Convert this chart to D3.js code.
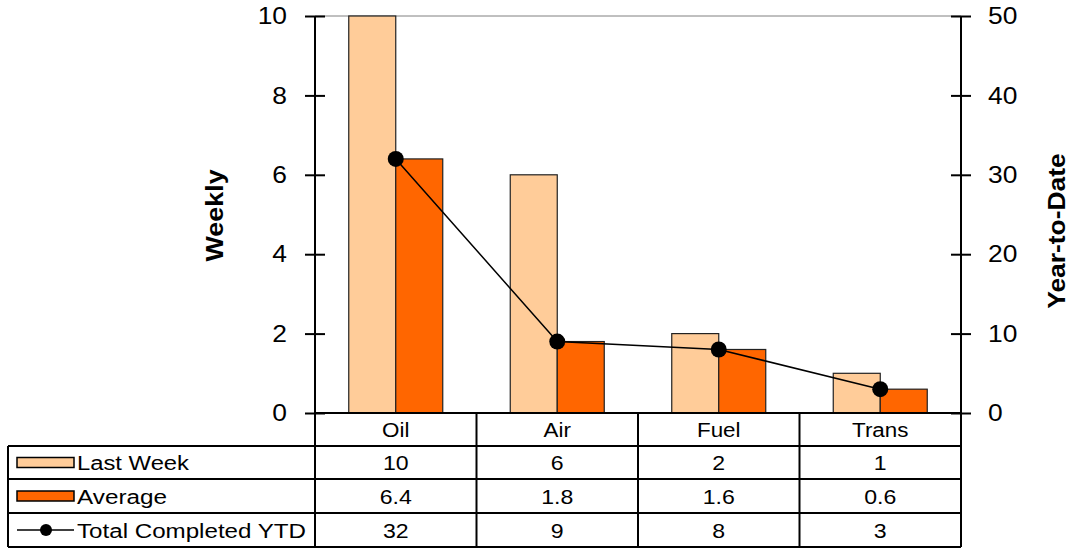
<!DOCTYPE html>
<html><head><meta charset="utf-8">
<script src="https://cdn.jsdelivr.net/npm/d3@7"></script>
<style>body{margin:0;background:#fff}svg{display:block}text{font-family:"Liberation Sans",Arial,sans-serif}</style>
</head><body>
<svg id="c" width="1074" height="548"></svg>
<script>
const categories = ["Oil","Air","Fuel","Trans"];
const lastWeek = [10,6,2,1];
const average = [6.4,1.8,1.6,0.6];
const totalYTD = [32,9,8,3];
const leftTicks = [0,2,4,6,8,10];
const rightTicks = [0,10,20,30,40,50];
const seriesNames = ["Last Week","Average","Total Completed YTD"];

const svg = d3.select("#c");
const L = 315, R = 961, T = 16, B = 413;
const x = d3.scaleBand().domain(categories).range([L,R]).paddingInner(0).paddingOuter(0);
const yL = d3.scaleLinear().domain([0,10]).range([B,T]);
const yR = d3.scaleLinear().domain([0,50]).range([B,T]);
const barW = 47;
const cLast = "#FFCC99", cAvg = "#FF6600";

function stretch(sel, k){
  sel.each(function(){
    const w = this.getComputedTextLength();
    d3.select(this).attr("textLength", w*k).attr("lengthAdjust","spacingAndGlyphs");
  });
  return sel;
}

// top border
svg.append("line").attr("x1",L).attr("x2",R).attr("y1",T).attr("y2",T).attr("stroke","#808080").attr("stroke-width",1);

// bars
const g = svg.append("g");
categories.forEach((c,i)=>{
  const cx = x(c)+x.bandwidth()/2;
  g.append("rect").attr("x",cx-barW).attr("y",yL(lastWeek[i])).attr("width",barW).attr("height",B-yL(lastWeek[i]))
    .attr("fill",cLast).attr("stroke","#222").attr("stroke-width",1.2);
  g.append("rect").attr("x",cx).attr("y",yL(average[i])).attr("width",barW).attr("height",B-yL(average[i]))
    .attr("fill",cAvg).attr("stroke","#222").attr("stroke-width",1.2);
});

// line
const line = d3.line().x((d,i)=>x(categories[i])+x.bandwidth()/2).y(d=>yR(d));
svg.append("path").datum(totalYTD).attr("d",line).attr("fill","none").attr("stroke","#000").attr("stroke-width",1.5);
svg.selectAll(".dot").data(totalYTD).enter().append("circle")
  .attr("cx",(d,i)=>x(categories[i])+x.bandwidth()/2).attr("cy",d=>yR(d)).attr("r",8).attr("fill","#000");

// axes
const axL = svg.append("g").attr("transform",`translate(${L},0)`)
  .call(d3.axisLeft(yL).tickValues(leftTicks).tickSize(10).tickPadding(18).tickFormat(d3.format("d")));
axL.selectAll(".tick line").attr("x1",10);
const axR = svg.append("g").attr("transform",`translate(${R},0)`)
  .call(d3.axisRight(yR).tickValues(rightTicks).tickSize(10).tickPadding(17).tickFormat(d3.format("d")));
axR.selectAll(".tick line").attr("x1",-10);
[axL,axR].forEach(a=>{
  a.select(".domain").remove();
  a.selectAll(".tick line").attr("stroke","#000").attr("stroke-width",2);
  a.selectAll("text").attr("font-size",24).attr("fill","#000").style("font-family","Liberation Sans, Arial, sans-serif");
  stretch(a.selectAll("text"),1.1);
});
svg.append("line").attr("x1",L).attr("x2",L).attr("y1",T).attr("y2",B).attr("stroke","#000").attr("stroke-width",2);
svg.append("line").attr("x1",R).attr("x2",R).attr("y1",T).attr("y2",547).attr("stroke","#000").attr("stroke-width",2);

// axis titles
stretch(svg.append("text").attr("transform",`translate(223,215.5) rotate(-90)`).attr("text-anchor","middle")
  .attr("font-size",24).attr("font-weight","bold").text("Weekly"),1.12);
stretch(svg.append("text").attr("transform",`translate(1065,231) rotate(-90)`).attr("text-anchor","middle")
  .attr("font-size",24).attr("font-weight","bold").text("Year-to-Date"),1.1);

// data table
const rowY = [413,446,479,513,547];
const TL = 8;
const tg = svg.append("g").attr("stroke","#000").attr("stroke-width",2);
tg.append("line").attr("x1",L).attr("x2",R).attr("y1",rowY[0]).attr("y2",rowY[0]);
for (let r=1;r<rowY.length;r++) tg.append("line").attr("x1",TL).attr("x2",R).attr("y1",rowY[r]).attr("y2",rowY[r]);
tg.append("line").attr("x1",TL).attr("x2",TL).attr("y1",rowY[1]).attr("y2",rowY[4]);
categories.forEach(c=>{
  tg.append("line").attr("x1",x(c)).attr("x2",x(c)).attr("y1",rowY[0]).attr("y2",rowY[4]);
});

categories.forEach(c=>{
  stretch(svg.append("text").attr("x",x(c)+x.bandwidth()/2).attr("y",(rowY[0]+rowY[1])/2+7.5)
    .attr("text-anchor","middle").attr("font-size",20).text(c),1.12);
});
const rows = [lastWeek,average,totalYTD];
const legendWidths = [112,90,229];
rows.forEach((vals,r)=>{
  vals.forEach((v,i)=>{
    stretch(svg.append("text").attr("x",x(categories[i])+x.bandwidth()/2).attr("y",(rowY[r+1]+rowY[r+2])/2+7.5)
      .attr("text-anchor","middle").attr("font-size",21).text(v),1.1);
  });
  const my = (rowY[r+1]+rowY[r+2])/2;
  if (r<2) {
    svg.append("rect").attr("x",17).attr("y",my-5).attr("width",57).attr("height",10)
      .attr("fill",r===0?cLast:cAvg).attr("stroke","#000").attr("stroke-width",1.5);
  } else {
    svg.append("line").attr("x1",17).attr("x2",74).attr("y1",my).attr("y2",my).attr("stroke","#000").attr("stroke-width",1.5);
    svg.append("circle").attr("cx",46).attr("cy",my).attr("r",6).attr("fill","#000");
  }
  svg.append("text").attr("x",77).attr("y",my+7.5).attr("font-size",20)
    .attr("textLength",legendWidths[r]).attr("lengthAdjust","spacingAndGlyphs").text(seriesNames[r]);
});
</script>
</body></html>
